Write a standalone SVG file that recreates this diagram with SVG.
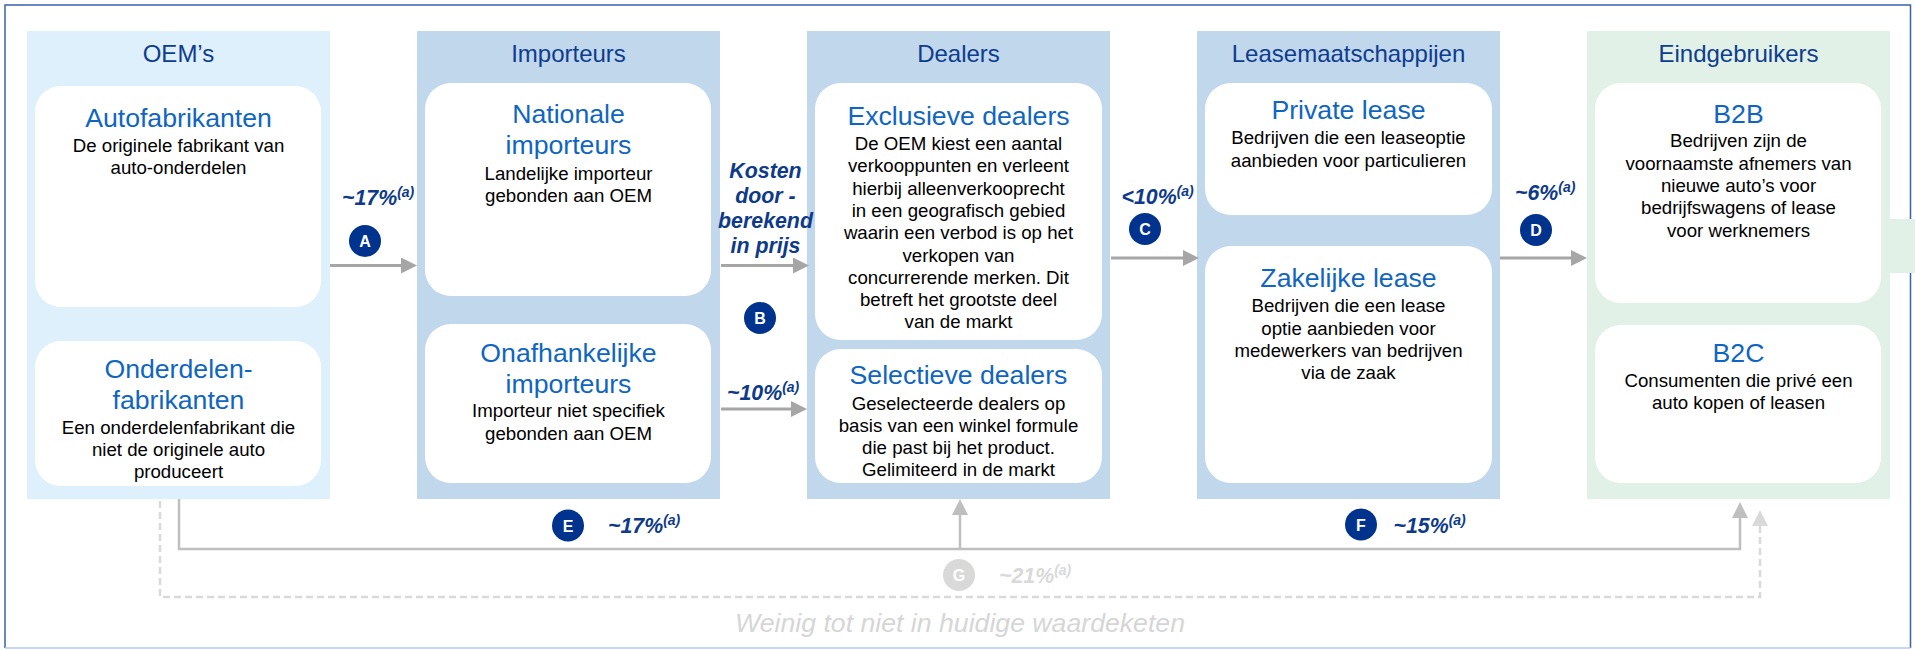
<svg xmlns="http://www.w3.org/2000/svg" width="1915" height="649" viewBox="0 0 1915 649">
<defs>
<style>
text{font-family:"Liberation Sans",Arial,sans-serif}
.col-light{fill:#DEF0FC}
.col-mid{fill:#C0D7EC}
.col-green{fill:#E1F1E7}
.box{fill:#FFFFFF}
.ctitle{font-size:24px;fill:#0E3C8F;text-anchor:middle}
.btitle{font-size:26.67px;fill:#0F66C2;text-anchor:middle}
.body{font-size:18.67px;fill:#000;text-anchor:middle}
.pct{font-size:21.33px;font-weight:bold;font-style:italic;fill:#0E3A8A}
.pct-g{font-size:21.33px;font-weight:bold;font-style:italic;fill:#D9D9D9}
.sup{font-size:14px}
.badge{fill:#00338D}
.badge-g{fill:#D9D9D9}
.blet{font-size:16px;font-weight:bold;fill:#FFFFFF;text-anchor:middle}
.arrow{stroke:#A6A6A6;stroke-width:3;fill:none}
.flow{stroke:#BFBFBF;stroke-width:2.5;fill:none}
.dash{stroke:#D9D9D9;stroke-width:2.5;fill:none;stroke-dasharray:7 4}
.note{font-size:26.67px;font-style:italic;fill:#D6D6D6;text-anchor:middle}
</style>
<marker id="ah" viewBox="0 0 16 16" refX="8" refY="8" markerWidth="16" markerHeight="16" markerUnits="userSpaceOnUse" orient="auto"><path d="M0,0 L16,8 L0,16 z" fill="#A6A6A6"/></marker>
<marker id="ah2" viewBox="0 0 16 16" refX="8" refY="8" markerWidth="16" markerHeight="16" markerUnits="userSpaceOnUse" orient="auto"><path d="M0,0 L16,8 L0,16 z" fill="#BFBFBF"/></marker>
<marker id="ah3" viewBox="0 0 16 16" refX="8" refY="8" markerWidth="16" markerHeight="16" markerUnits="userSpaceOnUse" orient="auto"><path d="M0,0 L16,8 L0,16 z" fill="#D9D9D9"/></marker>
</defs>
<rect x="0" y="0" width="1915" height="649" fill="#FFFFFF"/>
<path d="M5,648 V5 H1910.5 V648" fill="none" stroke="#3A62AA" stroke-width="1.5"/>
<line x1="5" y1="648" x2="1910.5" y2="648" stroke="#B7C9E6" stroke-width="1.5"/>

<g id="col-oem">
<rect class="col-light" x="27" y="31" width="303" height="468"/>
<text class="ctitle" x="178.5" y="62">OEM’s</text>
</g>
<g id="node-autofabrikanten">
<rect class="box" x="35" y="86" width="286" height="221" rx="26"/>
<text class="btitle" x="178.5" y="127">Autofabrikanten</text>
<text class="body" x="178.5" y="151.5">De originele fabrikant van</text>
<text class="body" x="178.5" y="174">auto-onderdelen</text>
</g>
<g id="node-onderdelenfabrikanten">
<rect class="box" x="35" y="341" width="286" height="145" rx="26"/>
<text class="btitle" x="178.5" y="377.5">Onderdelen-</text>
<text class="btitle" x="178.5" y="408.5">fabrikanten</text>
<text class="body" x="178.5" y="433.5">Een onderdelenfabrikant die</text>
<text class="body" x="178.5" y="456">niet de originele auto</text>
<text class="body" x="178.5" y="478.3">produceert</text>
</g>

<g id="col-importeurs">
<rect class="col-mid" x="417" y="31" width="303" height="468"/>
<text class="ctitle" x="568.5" y="62">Importeurs</text>
</g>
<g id="node-nationale">
<rect class="box" x="425" y="83" width="286" height="213" rx="26"/>
<text class="btitle" x="568.5" y="123">Nationale</text>
<text class="btitle" x="568.5" y="154">importeurs</text>
<text class="body" x="568.5" y="180">Landelijke importeur</text>
<text class="body" x="568.5" y="202">gebonden aan OEM</text>
</g>
<g id="node-onafhankelijke">
<rect class="box" x="425" y="324" width="286" height="159" rx="26"/>
<text class="btitle" x="568.5" y="361.7">Onafhankelijke</text>
<text class="btitle" x="568.5" y="392.7">importeurs</text>
<text class="body" x="568.5" y="417.3">Importeur niet specifiek</text>
<text class="body" x="568.5" y="439.5">gebonden aan OEM</text>
</g>

<g id="col-dealers">
<rect class="col-mid" x="807" y="31" width="303" height="468"/>
<text class="ctitle" x="958.5" y="62">Dealers</text>
</g>
<g id="node-exclusieve">
<rect class="box" x="815" y="83" width="287" height="257" rx="26"/>
<text class="btitle" x="958.5" y="125">Exclusieve dealers</text>
<text class="body" x="958.5" y="150">De OEM kiest een aantal</text>
<text class="body" x="958.5" y="172.3">verkooppunten en verleent</text>
<text class="body" x="958.5" y="194.6">hierbij alleenverkooprecht</text>
<text class="body" x="958.5" y="216.9">in een geografisch gebied</text>
<text class="body" x="958.5" y="239.2">waarin een verbod is op het</text>
<text class="body" x="958.5" y="261.5">verkopen van</text>
<text class="body" x="958.5" y="283.8">concurrerende merken. Dit</text>
<text class="body" x="958.5" y="306.1">betreft het grootste deel</text>
<text class="body" x="958.5" y="328.4">van de markt</text>
</g>
<g id="node-selectieve">
<rect class="box" x="815" y="349" width="287" height="134" rx="26"/>
<text class="btitle" x="958.5" y="384">Selectieve dealers</text>
<text class="body" x="958.5" y="409.5">Geselecteerde dealers op</text>
<text class="body" x="958.5" y="431.8">basis van een winkel formule</text>
<text class="body" x="958.5" y="454.1">die past bij het product.</text>
<text class="body" x="958.5" y="476.4">Gelimiteerd in de markt</text>
</g>

<g id="col-lease">
<rect class="col-mid" x="1197" y="31" width="303" height="468"/>
<text class="ctitle" x="1348.5" y="62">Leasemaatschappijen</text>
</g>
<g id="node-private">
<rect class="box" x="1205" y="83" width="287" height="132" rx="26"/>
<text class="btitle" x="1348.5" y="119.3">Private lease</text>
<text class="body" x="1348.5" y="144">Bedrijven die een leaseoptie</text>
<text class="body" x="1348.5" y="166.5">aanbieden voor particulieren</text>
</g>
<g id="node-zakelijke">
<rect class="box" x="1205" y="246" width="287" height="237" rx="26"/>
<text class="btitle" x="1348.5" y="287.3">Zakelijke lease</text>
<text class="body" x="1348.5" y="312.3">Bedrijven die een lease</text>
<text class="body" x="1348.5" y="334.6">optie aanbieden voor</text>
<text class="body" x="1348.5" y="356.9">medewerkers van bedrijven</text>
<text class="body" x="1348.5" y="379.2">via de zaak</text>
</g>

<g id="col-eind">
<rect class="col-green" x="1587" y="31" width="303" height="468"/>
<rect class="col-green" x="1890" y="219" width="25" height="54"/>
<text class="ctitle" x="1738.5" y="62">Eindgebruikers</text>
</g>
<g id="node-b2b">
<rect class="box" x="1595" y="83" width="286" height="220" rx="26"/>
<text class="btitle" x="1738.5" y="123.3">B2B</text>
<text class="body" x="1738.5" y="147.3">Bedrijven zijn de</text>
<text class="body" x="1738.5" y="169.6">voornaamste afnemers van</text>
<text class="body" x="1738.5" y="191.9">nieuwe auto’s voor</text>
<text class="body" x="1738.5" y="214.2">bedrijfswagens of lease</text>
<text class="body" x="1738.5" y="236.5">voor werknemers</text>
</g>
<g id="node-b2c">
<rect class="box" x="1595" y="325" width="286" height="158" rx="26"/>
<text class="btitle" x="1738.5" y="361.7">B2C</text>
<text class="body" x="1738.5" y="386.7">Consumenten die privé een</text>
<text class="body" x="1738.5" y="409">auto kopen of leasen</text>
</g>

<g id="connectors">
<line class="arrow" x1="330" y1="265.5" x2="409" y2="265.5" marker-end="url(#ah)"/>
<line class="arrow" x1="721" y1="265.5" x2="801" y2="265.5" marker-end="url(#ah)"/>
<line class="arrow" x1="721" y1="409" x2="799" y2="409" marker-end="url(#ah)"/>
<line class="arrow" x1="1111" y1="258" x2="1191" y2="258" marker-end="url(#ah)"/>
<line class="arrow" x1="1500" y1="258" x2="1579" y2="258" marker-end="url(#ah)"/>
<path class="dash" d="M160,501 V597 H1760 V518" marker-end="url(#ah3)"/>
<path class="flow" d="M179,499 V549 H1740 V510" marker-end="url(#ah2)"/>
<path class="flow" d="M960,549 V507" marker-end="url(#ah2)"/>
</g>

<g id="labels">
<text class="pct" x="342" y="205">~17%<tspan class="sup" dy="-8">(a)</tspan></text>
<circle class="badge" cx="365" cy="241" r="16"/>
<text class="blet" x="365" y="247">A</text>

<text class="pct" text-anchor="middle" x="765.5" y="178">Kosten</text>
<text class="pct" text-anchor="middle" x="765.5" y="203">door -</text>
<text class="pct" text-anchor="middle" x="765.5" y="228">berekend</text>
<text class="pct" text-anchor="middle" x="765.5" y="253">in prijs</text>
<circle class="badge" cx="760" cy="318" r="16"/>
<text class="blet" x="760" y="324">B</text>

<text class="pct" x="727" y="399.5">~10%<tspan class="sup" dy="-8">(a)</tspan></text>

<text class="pct" x="1121.5" y="204">&lt;10%<tspan class="sup" dy="-8">(a)</tspan></text>
<circle class="badge" cx="1145" cy="229" r="16"/>
<text class="blet" x="1145" y="235">C</text>

<text class="pct" x="1515" y="200">~6%<tspan class="sup" dy="-8">(a)</tspan></text>
<circle class="badge" cx="1536" cy="230" r="16"/>
<text class="blet" x="1536" y="236">D</text>

<circle class="badge" cx="568" cy="525.5" r="16"/>
<text class="blet" x="568" y="531.5">E</text>
<text class="pct" x="608" y="533">~17%<tspan class="sup" dy="-8">(a)</tspan></text>

<circle class="badge" cx="1361" cy="524.5" r="16"/>
<text class="blet" x="1361" y="530.5">F</text>
<text class="pct" x="1393.5" y="533">~15%<tspan class="sup" dy="-8">(a)</tspan></text>

<circle class="badge-g" cx="959" cy="575" r="16"/>
<text class="blet" x="959" y="581">G</text>
<text class="pct-g" x="999" y="583">~21%<tspan class="sup" dy="-8">(a)</tspan></text>

<text class="note" x="960" y="631.5">Weinig tot niet in huidige waardeketen</text>
</g>
</svg>
